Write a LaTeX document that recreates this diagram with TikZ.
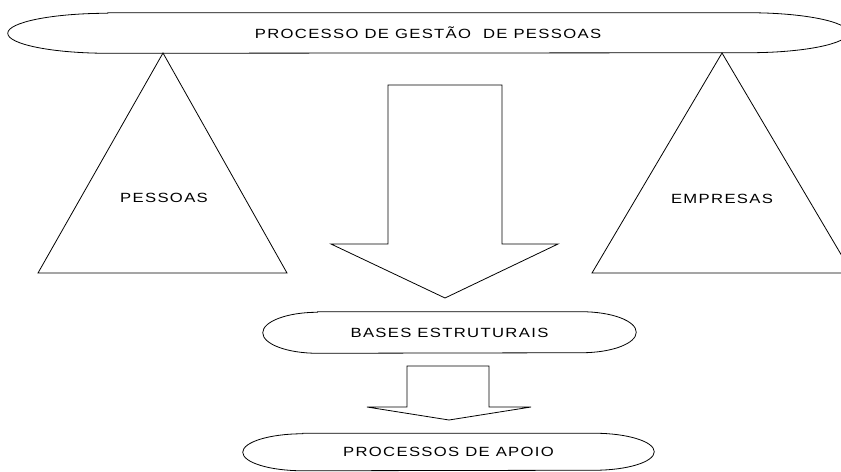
\documentclass[tikz,border=0pt]{standalone}
\usepackage{fontspec}
\newfontfamily\lblfont{Liberation Sans}[FakeStretch=1.25,LetterSpace=10]
\usepackage{tikz}
\tikzstyle{lbl}=[font=\lblfont\fontsize{10}{12}\selectfont, inner sep=0pt]
\tikzstyle{outline}=[draw=black, line width=.6pt, line join=miter]
\newcommand{\capsule}[3]{%
  \draw[outline] ([xshift=#2]#1.north west) -- ([xshift=-#2]#1.north east)
    arc[start angle=90, end angle=-90, x radius=#2, y radius=#3]
    -- ([xshift=#2]#1.south west)
    arc[start angle=270, end angle=90, x radius=#2, y radius=#3] -- cycle;}

\begin{document}
\begin{tikzpicture}[x=.75pt, y=-.75pt]
    \useasboundingbox (0,0) rectangle (841,471);
    \node[lbl, minimum width=630pt, minimum height=30pt] (gestao) at (428,33) {PROCESSO DE GESTÃO~ DE PESSOAS};
    \capsule{gestao}{75pt}{15pt}
    \draw[outline] (163,53) -- (287,273) -- (38,273) -- cycle;
    \draw[outline] (722,53) -- (852,273) -- (592,273) -- cycle;
    \node[lbl] (pessoas) at (164,198) {PESSOAS};
    \node[lbl] (empresas) at (722,199) {EMPRESAS};
    \draw[outline] (388,85) -- (502,85) -- (502,244) -- (558,244) -- (445,298) -- (331,244) -- (388,244) -- cycle;
    \node[lbl, minimum width=279.75pt, minimum height=30.75pt] (bases) at (449.5,332.5) {BASES ESTRUTURAIS};
    \capsule{bases}{41pt}{15.375pt}
    \draw[outline] (407,366) -- (489,366) -- (489,407) -- (531,407) -- (449,420) -- (367,407) -- (407,407) -- cycle;
    \node[lbl, minimum width=308.25pt, minimum height=27.75pt] (apoio) at (448.5,452) {PROCESSOS DE APOIO};
    \capsule{apoio}{45pt}{13.875pt}
  \end{tikzpicture}
\end{document}
